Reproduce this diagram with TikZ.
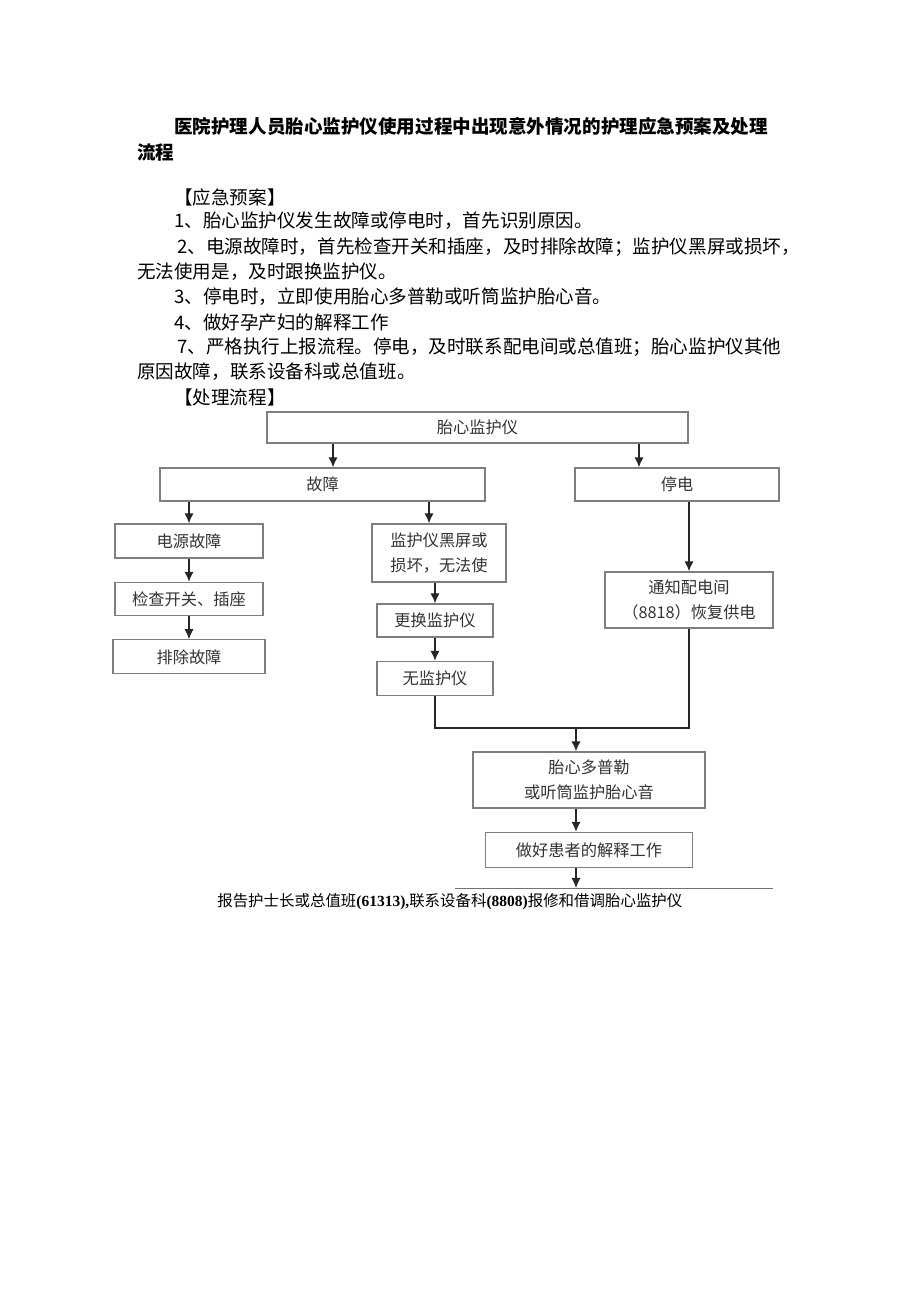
\documentclass[tikz,border=0pt]{standalone}
\usepackage{fontspec}
\setmainfont{Noto Sans CJK SC}
\newfontfamily\tnr{Liberation Serif}
\usetikzlibrary{positioning,arrows.meta}

\definecolor{boxline}{HTML}{7E7E7E}
\definecolor{boxtext}{HTML}{333333}

\begin{document}
\begin{tikzpicture}[
  x=0.6468pt, y=-0.6468pt,
  node distance=15pt and 0pt,
  txt/.style={anchor=west,inner sep=0pt,font=\fontsize{12}{16}\selectfont},
  hd/.style={txt,font=\fontsize{12}{16}\selectfont\bfseries},
  box/.style 2 args={draw=boxline,line width=0.8pt,text=boxtext,align=center,inner sep=0pt,
    minimum width=#1*0.6468pt,minimum height=#2*0.6468pt,font=\fontsize{10.5}{16}\selectfont},
  arr/.style={-{Latex[length=6.5pt,width=6pt]},line width=1pt,draw=black!85},
  ln/.style={line width=1pt,draw=black!85}
]
\path[use as bounding box,fill=white] (0,0) rectangle (920,1301);

\node[hd] (t1) at (174,126) {医院护理人员胎心监护仪使用过程中出现意外情况的护理应急预案及处理};
\node[hd] (t2) at (137,152) {流程};
\node[txt] (plan) at (174,197) {【应急预案】};
\node[txt] (l1) at (174,221) {1、胎心监护仪发生故障或停电时，首先识别原因。};
\node[txt] (l2) at (177,247) {2、电源故障时，首先检查开关和插座，及时排除故障；监护仪黑屏或损坏，};
\node[txt] (l2b) at (137,272) {无法使用是，及时跟换监护仪。};
\node[txt] (l3) at (174,297) {3、停电时，立即使用胎心多普勒或听筒监护胎心音。};
\node[txt] (l4) at (174,322) {4、做好孕产妇的解释工作};
\node[txt] (l7) at (177,347) {7、严格执行上报流程。停电，及时联系配电间或总值班；胎心监护仪其他};
\node[txt] (l7b) at (137,372) {原因故障，联系设备科或总值班。};
\node[txt] (flow) at (174,397) {【处理流程】};

\node[box={421}{31}] (mon) at (477.5,427.5) {胎心监护仪};
\node[box={325}{33}] (flt) at (322.5,484.5) {故障};
\node[box={204}{33}] (cut) at (677,484.5) {停电};
\node[box={148}{34}] (pwr) at (189,541) {电源故障};
\node[box={148}{33},below=of pwr] (chk) {检查开关、插座};
\node[box={152}{34},below=of chk] (clr) {排除故障};
\node[box={134}{58}] (blk) at (439,553) {监护仪黑屏或\\损坏，无法使};
\node[box={116}{33}] (rep) at (435,620.5) {更换监护仪};
\node[box={116}{34},below=of rep] (nom) {无监护仪};
\node[box={168}{56}] (ntf) at (689,600) {通知配电间\\（8818）恢复供电};
\node[box={232}{56}] (dop) at (589,780) {胎心多普勒\\或听筒监护胎心音};
\node[box={207}{35},below=of dop] (expl) {做好患者的解释工作};

\coordinate (xa) at (333,0);
\coordinate (xb) at (639,0);
\coordinate (xc) at (429,0);
\coordinate (jn) at (576,728);
\coordinate (tip) at (576,888);
\coordinate (le) at (455,888);
\coordinate (re) at (773,888);

\draw[arr] (mon.south -| xa) -- (flt.north -| xa);
\draw[arr] (mon.south -| xb) -- (cut.north -| xb);
\draw[arr] (flt.south -| pwr.north) -- (pwr.north);
\draw[arr] (flt.south -| xc) -- (blk.north -| xc);
\path (pwr) edge[arr] (chk);
\draw[arr] (chk.south) -- (chk.south |- clr.north);
\draw[arr] (cut.south -| ntf.north) -- (ntf.north);
\draw[arr] (blk.south -| rep.north) -- (rep.north);
\path (rep) edge[arr] (nom);
\draw[ln] (nom.south) |- (jn) -| (ntf.south);
\draw[arr] (jn) -- (dop.north -| jn);
\draw[arr] (dop.south -| jn) -- (expl.north -| jn);
\draw[arr] (expl.south -| jn) -- (tip);
\draw[draw=black!55,line width=0.6pt] (le) -- (re);

\node[anchor=west,inner sep=0pt,font=\fontsize{10}{12}\selectfont] (rpt) at (217,902)
  {报告护士长或总值班{\tnr\bfseries (61313),}联系设备科{\tnr\bfseries (8808)}报修和借调胎心监护仪};
\end{tikzpicture}
\end{document}
